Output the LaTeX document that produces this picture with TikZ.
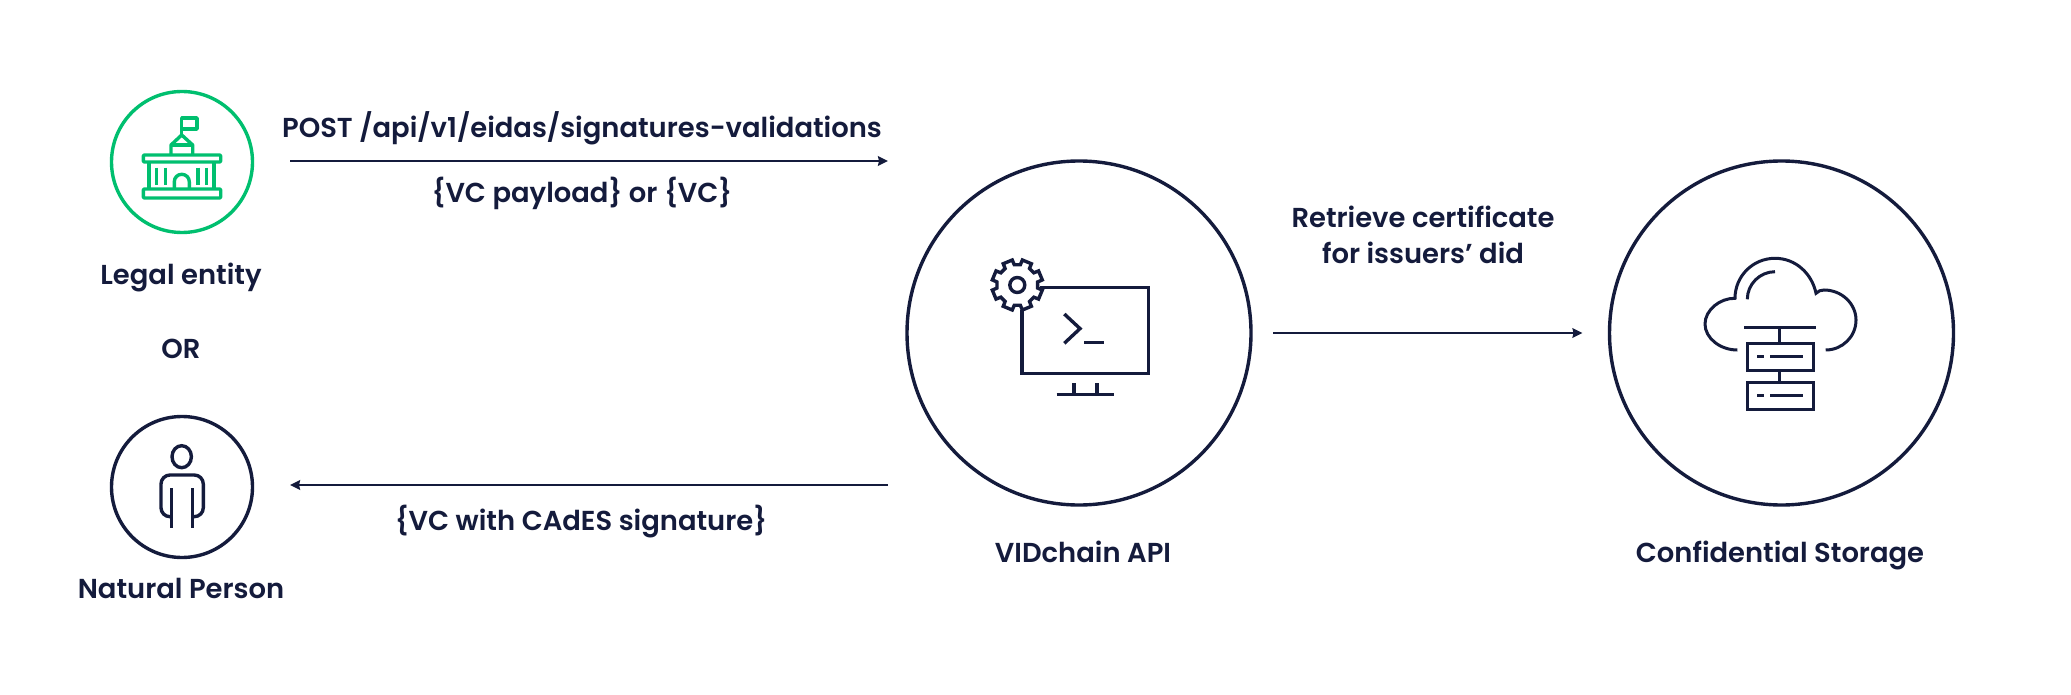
\documentclass[tikz,border=0pt]{standalone}
\usepackage{fontspec}
\setmainfont{Poppins}[UprightFont=* Medium,BoldFont=* SemiBold]
\usetikzlibrary{arrows.meta}
\definecolor{navy}{HTML}{141B3C}
\definecolor{vgreen}{HTML}{00BF6F}
\tikzset{
  ring/.style={circle,draw=navy,line width=3.4pt,inner sep=0pt,outer sep=0pt},
  label text/.style={text=navy,inner sep=0pt,anchor=base,font=\fontsize{27.4}{36}\selectfont\bfseries,align=center},
  flow/.style={draw=navy,line width=2.2pt,-{Stealth[length=10pt,width=9.5pt,inset=1pt]}},
  icon/.style={draw=navy,line width=3.4pt,line join=miter},
  thin icon/.style={draw=navy,line width=3pt},
  green icon/.style={draw=vgreen,line width=3.4pt,line join=round}
}
\begin{document}
\begin{tikzpicture}[x=1pt,y=-1pt]
\path[use as bounding box,fill=white] (0,0) rectangle (2071,695);
% circles
\node[ring,draw=vgreen,minimum size=141pt] (legal) at (182,162) {};
\node[ring,minimum size=141pt] (person) at (182,487) {};
\node[ring,minimum size=344pt] (api) at (1079,333) {};
\node[ring,minimum size=344pt] (storage) at (1781.5,333) {};
% labels
\node[label text] (tLegal) at (181,284) {Legal entity};
\node[label text] (tOr) at (181,358) {OR};
\node[label text] (tPerson) at (181,598) {Natural Person};
\node[label text] (tApi) at (1083,562) {VIDchain API};
\node[label text] (tStorage) at (1780,562) {Confidential Storage};
\node[label text] (tPost) at (582,138) {POST /api/v1/eidas/signatures-validations};
\node[label text] (tPayload) at (582,203) {\{VC payload\} or \{VC\}};
\node[label text] (tCades) at (581,530) {\{VC with CAdES signature\}};
\node[label text] (tRetrieve) at (1423,263) {Retrieve certificate\\for issuers’ did};
% connectors
\coordinate (postStart) at (290,161);
\coordinate (postEnd) at (888,161);
\coordinate (backStart) at (888,485);
\coordinate (backEnd) at (290,485);
\draw[flow] (postStart) -- (postEnd);
\draw[flow] (backStart) -- (backEnd);
\draw[flow,shorten <=22pt,shorten >=27pt] (api.east) -- (storage.west);
% building icon
\begin{scope}[green icon]
\draw (181.7,136) -- (181.7,118) -- (197,118) -- (197,129) -- (181.7,129);
\draw (171,155) -- (171,145) -- (181.7,135) -- (192.7,145) -- (192.7,155);
\draw (171,145) -- (192.7,145);
\draw[rounded corners=1pt] (143.3,155) rectangle (220.7,162);
\draw[rounded corners=1pt] (143.3,189) rectangle (220.7,198);
\draw (149,162) -- (149,189) (214,162) -- (214,189);
\draw (156.7,167.7) -- (156.7,185) (165.3,167.7) -- (165.3,185) (198,167.7) -- (198,185) (206.7,167.7) -- (206.7,185);
\draw (174.3,189) -- (174.3,181.8) .. controls (174.3,177.6) and (177.6,174.3) .. (181.8,174.3) .. controls (186,174.3) and (189.3,177.6) .. (189.3,181.8) -- (189.3,189);
\end{scope}
% person icon
\begin{scope}[icon]
\draw (181.7,456.7) ellipse [x radius=9.7,y radius=11];
\draw[rounded corners=9pt] (171.3,516.7) -- (161,516.7) -- (161,475) -- (203.3,475) -- (203.3,516.7) -- (192.7,516.7);
\draw (171.3,488) -- (171.3,527.7) (192.7,488) -- (192.7,527.7);
\end{scope}
% monitor icon
\begin{scope}[icon]
\draw (1022,310) -- (1022,373.7) -- (1148.7,373.7) -- (1148.7,287.7) -- (1040,287.7);
\draw (1064.3,314) -- (1080,328.6) -- (1064.3,343.3);
\draw (1084.3,342.7) -- (1104.3,342.7);
\draw (1056.7,394.7) -- (1114,394.7);
\draw (1074,383.3) -- (1074,394.7) (1097,383.3) -- (1097,394.7);
\draw (1017.3,285) circle [radius=7.5];
\begin{scope}[shift={(1017.3,285)}]
\draw (8.5:20.5) -- (11.5:25.5) -- (33.5:25.5) -- (36.5:20.5)
  -- (53.5:20.5) -- (56.5:25.5) -- (78.5:25.5) -- (81.5:20.5)
  -- (98.5:20.5) -- (101.5:25.5) -- (123.5:25.5) -- (126.5:20.5)
  -- (143.5:20.5) -- (146.5:25.5) -- (168.5:25.5) -- (171.5:20.5)
  -- (188.5:20.5) -- (191.5:25.5) -- (213.5:25.5) -- (216.5:20.5)
  -- (233.5:20.5) -- (236.5:25.5) -- (258.5:25.5) -- (261.5:20.5)
  -- (278.5:20.5) -- (281.5:25.5) -- (303.5:25.5) -- (306.5:20.5)
  -- (323.5:20.5) -- (326.5:25.5) -- (348.5:25.5) -- (351.5:20.5) -- cycle;
\end{scope}
\end{scope}
% cloud icon
\begin{scope}[thin icon]
\draw (1737.3,350) .. controls (1720,350) and (1705,338) .. (1705,324)
  .. controls (1705,310) and (1720,298) .. (1735,298.3)
  .. controls (1735,276) and (1753,258.3) .. (1775,258.3)
  .. controls (1796,258.3) and (1812,274) .. (1816,293.3)
  .. controls (1818,291) and (1821,290) .. (1824,290)
  .. controls (1842,290) and (1856,304) .. (1856,320)
  .. controls (1856,337) and (1842,350) .. (1825.7,350);
\draw (1747.3,299.3) .. controls (1747.3,284) and (1760,271.7) .. (1775,271.7);
\draw (1744,327.3) -- (1816,327.3);
\draw (1779.7,327.3) -- (1779.7,343.3) (1779.7,370) -- (1779.7,382.7);
\draw (1747.3,343.3) rectangle (1813.3,370);
\draw (1747.3,382.7) rectangle (1813.3,409);
\draw (1757.3,356.7) -- (1764,356.7) (1770,356.7) -- (1803.3,356.7);
\draw (1757.3,395.7) -- (1764,395.7) (1770,395.7) -- (1803.3,395.7);
\end{scope}
\end{tikzpicture}
\end{document}
